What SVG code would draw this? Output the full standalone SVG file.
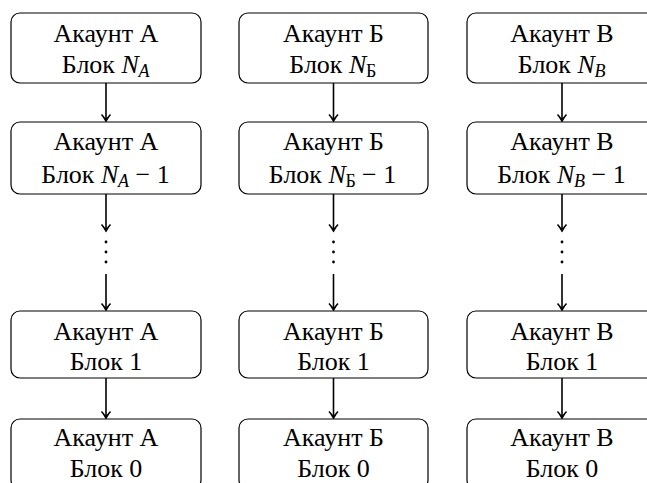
<svg xmlns="http://www.w3.org/2000/svg" width="647" height="483" viewBox="0 0 647 483">
<rect width="647" height="483" fill="#fff"/>
<g id="connectors" stroke="#000" stroke-width="1.6" fill="none">
<path d="M106,83V121M101.5,114.5C104,117 105.4,120 106,121C106.6,120 108,117 110.5,114.5"/>
<path d="M106,194V231M101.5,224.5C104,227 105.4,230 106,231C106.6,230 108,227 110.5,224.5"/>
<path d="M106,274V310M101.5,303.5C104,306 105.4,309 106,310C106.6,309 108,306 110.5,303.5"/>
<path d="M106,378V418M101.5,411.5C104,414 105.4,417 106,418C106.6,417 108,414 110.5,411.5"/>
<path d="M333.5,83V121M329,114.5C331.5,117 332.9,120 333.5,121C334.1,120 335.5,117 338,114.5"/>
<path d="M333.5,194V231M329,224.5C331.5,227 332.9,230 333.5,231C334.1,230 335.5,227 338,224.5"/>
<path d="M333.5,274V310M329,303.5C331.5,306 332.9,309 333.5,310C334.1,309 335.5,306 338,303.5"/>
<path d="M333.5,378V418M329,411.5C331.5,414 332.9,417 333.5,418C334.1,417 335.5,414 338,411.5"/>
<path d="M562,83V121M557.5,114.5C560,117 561.4,120 562,121C562.6,120 564,117 566.5,114.5"/>
<path d="M562,194V231M557.5,224.5C560,227 561.4,230 562,231C562.6,230 564,227 566.5,224.5"/>
<path d="M562,274V310M557.5,303.5C560,306 561.4,309 562,310C562.6,309 564,306 566.5,303.5"/>
<path d="M562,378V418M557.5,411.5C560,414 561.4,417 562,418C562.6,417 564,414 566.5,411.5"/>
<g fill="#000" stroke="none">
<circle cx="106" cy="242" r="1.4"/><circle cx="106" cy="252" r="1.4"/><circle cx="106" cy="262" r="1.4"/>
<circle cx="333.5" cy="242" r="1.4"/><circle cx="333.5" cy="252" r="1.4"/><circle cx="333.5" cy="262" r="1.4"/>
<circle cx="562" cy="242" r="1.4"/><circle cx="562" cy="252" r="1.4"/><circle cx="562" cy="262" r="1.4"/>
</g>
</g>
<g id="a1"><rect x="11" y="13" width="190" height="70" rx="9" fill="#fff" stroke="#000" stroke-width="1.2"/>
<text x="106" y="42" font-family="Liberation Serif" font-size="26" text-anchor="middle">Акаунт А</text>
<text x="115" y="73" font-family="Liberation Serif" font-size="26" text-anchor="end">Блок</text>
<text x="121.5" y="73" font-family="Liberation Serif" font-size="26" font-style="italic">N</text>
<text x="138.5" y="77" font-family="Liberation Serif" font-size="18" font-style="italic">A</text></g>
<g id="a2"><rect x="11" y="122" width="190" height="72" rx="9" fill="#fff" stroke="#000" stroke-width="1.2"/>
<text x="106" y="150" font-family="Liberation Serif" font-size="26" text-anchor="middle">Акаунт А</text>
<text x="94.5" y="183" font-family="Liberation Serif" font-size="26" text-anchor="end">Блок</text>
<text x="101" y="183" font-family="Liberation Serif" font-size="26" font-style="italic">N</text>
<text x="118" y="187" font-family="Liberation Serif" font-size="18" font-style="italic">A</text>
<text x="135.5" y="183" font-family="Liberation Serif" font-size="26">− 1</text></g>
<g id="a3"><rect x="11" y="311" width="190" height="67" rx="9" fill="#fff" stroke="#000" stroke-width="1.2"/>
<text x="106" y="340" font-family="Liberation Serif" font-size="26" text-anchor="middle">Акаунт А</text>
<text x="106" y="370" font-family="Liberation Serif" font-size="26" text-anchor="middle">Блок 1</text></g>
<g id="a4"><rect x="11" y="419" width="190" height="70" rx="9" fill="#fff" stroke="#000" stroke-width="1.2"/>
<text x="106" y="446" font-family="Liberation Serif" font-size="26" text-anchor="middle">Акаунт А</text>
<text x="106" y="477" font-family="Liberation Serif" font-size="26" text-anchor="middle">Блок 0</text></g>
<g id="b1"><rect x="239" y="13" width="189" height="70" rx="9" fill="#fff" stroke="#000" stroke-width="1.2"/>
<text x="333.5" y="42" font-family="Liberation Serif" font-size="26" text-anchor="middle">Акаунт Б</text>
<text x="342.5" y="73" font-family="Liberation Serif" font-size="26" text-anchor="end">Блок</text>
<text x="349" y="73" font-family="Liberation Serif" font-size="26" font-style="italic">N</text>
<text x="366" y="77" font-family="Liberation Serif" font-size="18">Б</text></g>
<g id="b2"><rect x="239" y="122" width="189" height="72" rx="9" fill="#fff" stroke="#000" stroke-width="1.2"/>
<text x="333.5" y="150" font-family="Liberation Serif" font-size="26" text-anchor="middle">Акаунт Б</text>
<text x="322" y="183" font-family="Liberation Serif" font-size="26" text-anchor="end">Блок</text>
<text x="328.5" y="183" font-family="Liberation Serif" font-size="26" font-style="italic">N</text>
<text x="345.5" y="187" font-family="Liberation Serif" font-size="18">Б</text>
<text x="362" y="183" font-family="Liberation Serif" font-size="26">− 1</text></g>
<g id="b3"><rect x="239" y="311" width="189" height="67" rx="9" fill="#fff" stroke="#000" stroke-width="1.2"/>
<text x="333.5" y="340" font-family="Liberation Serif" font-size="26" text-anchor="middle">Акаунт Б</text>
<text x="333.5" y="370" font-family="Liberation Serif" font-size="26" text-anchor="middle">Блок 1</text></g>
<g id="b4"><rect x="239" y="419" width="189" height="70" rx="9" fill="#fff" stroke="#000" stroke-width="1.2"/>
<text x="333.5" y="446" font-family="Liberation Serif" font-size="26" text-anchor="middle">Акаунт Б</text>
<text x="333.5" y="477" font-family="Liberation Serif" font-size="26" text-anchor="middle">Блок 0</text></g>
<g id="c1"><rect x="467" y="13" width="190" height="70" rx="9" fill="#fff" stroke="#000" stroke-width="1.2"/>
<text x="562" y="42" font-family="Liberation Serif" font-size="26" text-anchor="middle">Акаунт В</text>
<text x="571" y="73" font-family="Liberation Serif" font-size="26" text-anchor="end">Блок</text>
<text x="577.5" y="73" font-family="Liberation Serif" font-size="26" font-style="italic">N</text>
<text x="594.5" y="77" font-family="Liberation Serif" font-size="18" font-style="italic">B</text></g>
<g id="c2"><rect x="467" y="122" width="190" height="72" rx="9" fill="#fff" stroke="#000" stroke-width="1.2"/>
<text x="562" y="150" font-family="Liberation Serif" font-size="26" text-anchor="middle">Акаунт В</text>
<text x="550.5" y="183" font-family="Liberation Serif" font-size="26" text-anchor="end">Блок</text>
<text x="557" y="183" font-family="Liberation Serif" font-size="26" font-style="italic">N</text>
<text x="574" y="187" font-family="Liberation Serif" font-size="18" font-style="italic">B</text>
<text x="591.5" y="183" font-family="Liberation Serif" font-size="26">− 1</text></g>
<g id="c3"><rect x="467" y="311" width="190" height="67" rx="9" fill="#fff" stroke="#000" stroke-width="1.2"/>
<text x="562" y="340" font-family="Liberation Serif" font-size="26" text-anchor="middle">Акаунт В</text>
<text x="562" y="370" font-family="Liberation Serif" font-size="26" text-anchor="middle">Блок 1</text></g>
<g id="c4"><rect x="467" y="419" width="190" height="70" rx="9" fill="#fff" stroke="#000" stroke-width="1.2"/>
<text x="562" y="446" font-family="Liberation Serif" font-size="26" text-anchor="middle">Акаунт В</text>
<text x="562" y="477" font-family="Liberation Serif" font-size="26" text-anchor="middle">Блок 0</text></g>
</svg>
